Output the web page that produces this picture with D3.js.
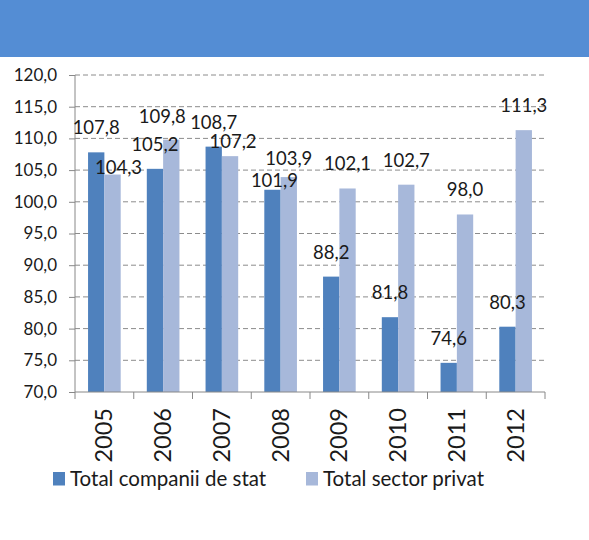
<!DOCTYPE html>
<html>
<head>
<meta charset="utf-8">
<script src="https://cdn.jsdelivr.net/npm/d3@7"></script>
<style>
  html, body { margin: 0; padding: 0; background: #fff; }
  svg { display: block; }
  text { font-family: Lato, "Open Sans", sans-serif; fill: #1a1a1a; }
</style>
</head>
<body>
<svg id="chart" width="589" height="540"></svg>
<script>
// Years on the category axis
const years = ["2005", "2006", "2007", "2008", "2009", "2010", "2011", "2012"];
// Index values per year for each series
const stateCompanies = [107.8, 105.2, 108.7, 101.9, 88.2, 81.8, 74.6, 80.3];
const privateSector = [104.3, 109.8, 107.2, 103.9, 102.1, 102.7, 98.0, 111.3];
// Series names shown in the legend
const seriesNames = ["Total companii de stat", "Total sector privat"];
// Value axis ticks
const yTicks = [70, 75, 80, 85, 90, 95, 100, 105, 110, 115, 120];

const colors = ["#4f81bd", "#a7b8da"];
const series = [stateCompanies, privateSector];

const svg = d3.select("#chart");
const W = 589, H = 540;

// Header band
svg.append("rect").attr("x", 0).attr("y", 0).attr("width", W).attr("height", 57)
  .attr("fill", "#548dd4");

const plot = { left: 75, right: 545, top: 75, bottom: 392 };

const x = d3.scaleBand().domain(years).range([plot.left, plot.right]).paddingInner(0).paddingOuter(0);
const xSub = d3.scaleBand().domain([0, 1]).range([0, x.bandwidth()]).paddingInner(0).paddingOuter(0.8);
const y = d3.scaleLinear().domain([70, 120]).range([plot.bottom, plot.top]);

const fmt = v => d3.format(".1f")(v).replace(".", ",");

// Dashed horizontal gridlines
svg.append("g")
  .selectAll("line")
  .data(yTicks.filter(t => t > 70))
  .join("line")
  .attr("x1", plot.left).attr("x2", plot.right)
  .attr("y1", d => y(d)).attr("y2", d => y(d))
  .attr("stroke", "#8c8c8c").attr("stroke-width", 1)
  .attr("stroke-dasharray", "5,3");

// Y axis
const yAxis = d3.axisLeft(y).tickValues(yTicks).tickFormat(fmt).tickSize(6).tickPadding(12);
const yg = svg.append("g").attr("transform", `translate(${plot.left},0)`).call(yAxis);
yg.select(".domain").attr("stroke", "#888").attr("d", `M0,${plot.top}V${plot.bottom}`);
yg.selectAll(".tick line").attr("stroke", "#888");
yg.selectAll(".tick text").attr("font-size", 17).attr("fill", "#262626")
  .style("font-family", "Lato, sans-serif");

// Bars
const barsG = svg.append("g");
series.forEach((vals, s) => {
  barsG.append("g").selectAll("rect")
    .data(vals)
    .join("rect")
    .attr("x", (d, i) => x(years[i]) + xSub(s))
    .attr("width", xSub.bandwidth())
    .attr("y", d => y(d))
    .attr("height", d => y(70) - y(d))
    .attr("fill", colors[s]);
});

// X axis with ticks at the category boundaries
const xg = svg.append("g").attr("transform", `translate(0,${plot.bottom})`);
xg.append("line").attr("x1", plot.left).attr("x2", plot.right).attr("y1", 0).attr("y2", 0)
  .attr("stroke", "#888");
const bounds = years.map(yr => x(yr)).concat([plot.right]);
xg.selectAll("line.tk").data(bounds).join("line").attr("class", "tk")
  .attr("x1", d => d).attr("x2", d => d).attr("y1", 0).attr("y2", 7).attr("stroke", "#888");
xg.selectAll("text").data(years).join("text")
  .attr("transform", d => `translate(${x(d) + x.bandwidth() / 2 + 8},16) rotate(-90)`)
  .attr("text-anchor", "end")
  .attr("font-size", 23.5)
  .attr("fill", "#1a1a1a")
  .text(d => d);

// Data labels, with a few nudged to avoid overlaps
const nudges = {
  "1-2005": { dx: 6, gap: 0.5 },
  "1-2006": { dx: -9, gap: 17 },
  "1-2007": { dx: 3, gap: 8 },
  "1-2008": { dx: 0, gap: 12 },
  "0-2008": { dx: 2, gap: 3 }
};
const labelsG = svg.append("g");
series.forEach((vals, s) => {
  labelsG.append("g").selectAll("text")
    .data(vals)
    .join("text")
    .attr("x", (d, i) => {
      const n = nudges[`${s}-${years[i]}`];
      return x(years[i]) + xSub(s) + xSub.bandwidth() / 2 + (n ? n.dx : 0);
    })
    .attr("y", (d, i) => {
      const n = nudges[`${s}-${years[i]}`];
      return y(d) - (n ? n.gap : 18);
    })
    .attr("text-anchor", "middle")
    .attr("font-size", 18.5)
    .text(d => fmt(d));
});

// Legend
const legend = svg.append("g");
const legendItems = [
  { x: 53, name: seriesNames[0], color: colors[0] },
  { x: 306, name: seriesNames[1], color: colors[1] }
];
legendItems.forEach(it => {
  legend.append("rect").attr("x", it.x).attr("y", 472).attr("width", 12).attr("height", 13.5)
    .attr("fill", it.color);
  legend.append("text").attr("x", it.x + 17).attr("y", 486)
    .attr("font-size", 20.5).text(it.name);
});
</script>
</body>
</html>
